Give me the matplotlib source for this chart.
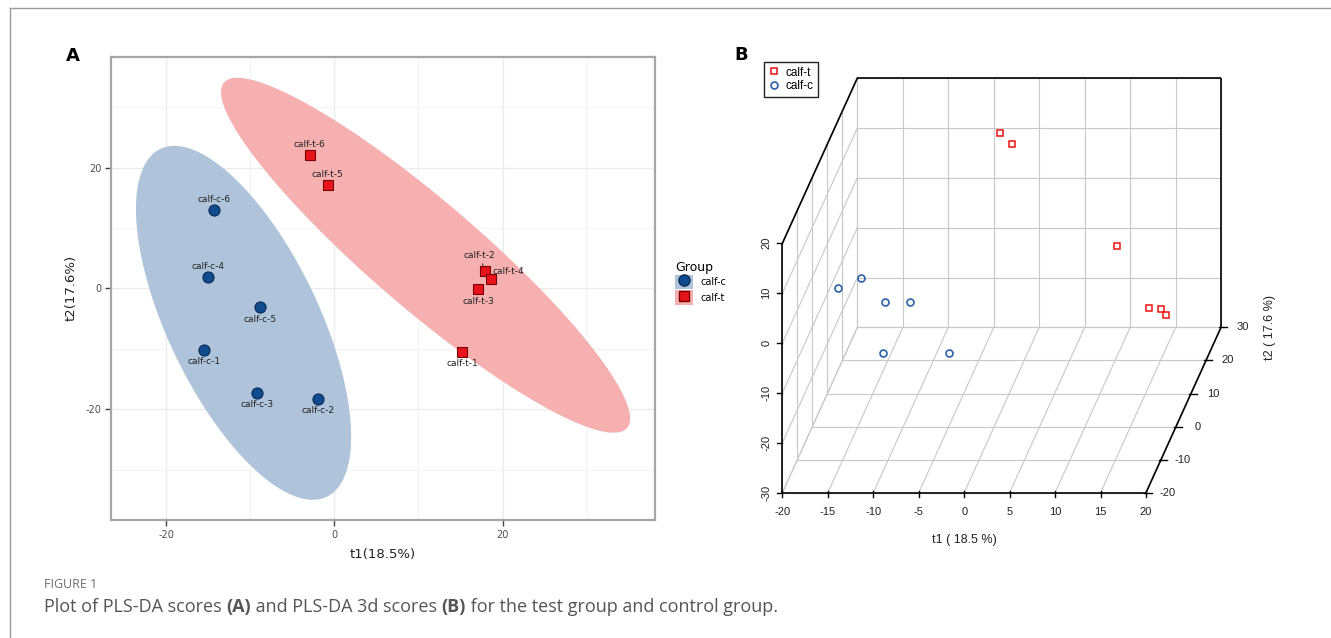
import numpy as np
import matplotlib.pyplot as plt
from matplotlib.lines import Line2D
from matplotlib.patches import Patch

plt.rcParams['axes.unicode_minus'] = False

# PLS-DA scores (t1, t2 from panel A, t3 for panel B)
names_c = ["calf-c-1", "calf-c-2", "calf-c-3", "calf-c-4", "calf-c-5", "calf-c-6"]
t1_c = [-15.52, -1.94, -9.19, -15.0, -8.78, -14.33]
t2_c = [-10.2, -18.3, -17.3, 1.8, -3.15, 12.9]
t3_c = [4.5, -3.1, 6.4, -1.4, -2.9, -23.9]

names_t = ["calf-t-1", "calf-t-2", "calf-t-3", "calf-t-4", "calf-t-5", "calf-t-6"]
t1_t = [15.2, 17.88, 17.08, 18.67, -0.81, -2.95]
t2_t = [-10.5, 2.86, -0.07, 1.49, 17.1, 22.0]
t3_t = [13.1, -8.4, -6.2, -8.7, 15.4, 14.2]

# ellipse spread: var(t1), var(t2), cov(t1, t2)
ell_c = [163.6, 858.5, -241.0]
ell_t = [591.5, 863.2, -657.0]

# 3d axes ticks
b_t1_ticks = [-20, -15, -10, -5, 0, 5, 10, 15, 20]
b_t2_ticks = [-20, -10, 0, 10, 20, 30]
b_t3_ticks = [-30, -20, -10, 0, 10, 20]

W, H = 1331, 638
fig = plt.figure(figsize=(W / 100, H / 100), dpi=100)

col_c, col_t = "#0f4c8f", "#e8141c"
fill_c, fill_t = "#afc4da", "#f7b0b0"

# ---------------- panel A ----------------
axa = fig.add_axes([111.2 / W, 1 - 520 / H, (655 - 111.2) / W, (520 - 56.7) / H])
axa.set_xlim(-26.53, 38.13)
axa.set_ylim(-38.35, 38.35)
axa.set_xticks([-20, 0, 20])
axa.set_yticks([-20, 0, 20])
axa.set_xticks([-10, 10, 30], minor=True)
axa.set_yticks([-30, -10, 10, 30], minor=True)
axa.grid(which="major", color="#ebebeb", lw=1.0, zorder=0)
axa.grid(which="minor", color="#f4f4f4", lw=0.8, zorder=0)
axa.tick_params(which="minor", length=0)
axa.tick_params(which="major", length=4, width=1, color="#444444",
                labelsize=7, labelcolor="#4d4d4d", pad=3)
for s in axa.spines.values():
    s.set_color("#a6a6a6")
    s.set_linewidth(1.6)
axa.set_axisbelow(True)

theta = np.linspace(0, 2 * np.pi, 300)
for t1, t2, ell, fc in [(t1_c, t2_c, ell_c, fill_c), (t1_t, t2_t, ell_t, fill_t)]:
    cov = np.array([[ell[0], ell[2]], [ell[2], ell[1]]])
    L = np.linalg.cholesky(cov)
    pts = (L @ np.vstack([np.cos(theta), np.sin(theta)])).T + [np.mean(t1), np.mean(t2)]
    axa.fill(pts[:, 0], pts[:, 1], color=fc, lw=0, zorder=1)

axa.plot(t1_c, t2_c, "o", ms=8, mfc=col_c, mec="#0a2a55", mew=0.8, ls="none", zorder=3)
axa.plot(t1_t, t2_t, "s", ms=7.5, mfc=col_t, mec="#7a0000", mew=0.8, ls="none", zorder=3)

# label offsets in pixels (ggrepel style)
off_c = {"calf-c-1": (0, -12), "calf-c-2": (0, -12), "calf-c-3": (0, -12),
         "calf-c-4": (0, 11), "calf-c-5": (0, -12), "calf-c-6": (0, 11)}
off_t = {"calf-t-1": (0, -12), "calf-t-2": (-5, 16), "calf-t-3": (0, -13),
         "calf-t-4": (17, 8), "calf-t-5": (0, 11), "calf-t-6": (0, 11)}
for names, t1, t2, off in [(names_c, t1_c, t2_c, off_c), (names_t, t1_t, t2_t, off_t)]:
    for n, x, y in zip(names, t1, t2):
        arrow = None
        if n == "calf-t-2":
            arrow = dict(arrowstyle="-", color="#333333", lw=0.7, shrinkA=1, shrinkB=4)
        axa.annotate(n, (x, y), xytext=off[n], textcoords="offset pixels",
                     ha="center", va="center", fontsize=6.5, color="#222222",
                     arrowprops=arrow, zorder=4)

axa.set_xlabel("t1(18.5%)", fontsize=9.5, color="#222222", labelpad=6)
axa.set_ylabel("t2(17.6%)", fontsize=9.5, color="#222222", labelpad=6)

h_c = (Patch(facecolor=fill_c, edgecolor="none"),
       Line2D([], [], marker="o", ms=8, mfc=col_c, mec="#0a2a55", ls="none"))
h_t = (Patch(facecolor=fill_t, edgecolor="none"),
       Line2D([], [], marker="s", ms=7, mfc=col_t, mec="#7a0000", ls="none"))
leg = axa.legend([h_c, h_t], ["calf-c", "calf-t"], title="Group",
                 loc="upper left", bbox_to_anchor=(666 / W, 1 - 252 / H),
                 bbox_transform=fig.transFigure, frameon=False, fontsize=7,
                 title_fontsize=9, handlelength=1.9, handleheight=1.9,
                 labelspacing=0.12, handletextpad=0.7, alignment="left")

fig.text(73 / W, 1 - 56 / H, "A", fontsize=13, fontweight="bold", ha="center", va="center")

# ---------------- panel B (oblique 3d, scatterplot3d style) ----------------
ox, oy = 782.4, 492.7     # pixel of (t1=-20, t2=-20, t3=-30)
ux, uz = 9.09, 4.99       # pixels per unit along t1 and t3
dx, dz = 1.5, 3.306       # pixel shift per unit along t2
kx, kz = dx / ux, dz / uz
xl, xr = b_t1_ticks[0], b_t1_ticks[-1]
yl, yr = b_t2_ticks[0], b_t2_ticks[-1]
zl, zr = b_t3_ticks[0], b_t3_ticks[-1]

bl, br, bt, bb = 740, 1331, 40, 560
axb = fig.add_axes([bl / W, 1 - bb / H, (br - bl) / W, (bb - bt) / H])
axb.set_xlim(xl + (bl - ox) / ux, xl + (br - ox) / ux)
axb.set_ylim(zl - (bb - oy) / uz, zl + (oy - bt) / uz)
axb.axis("off")


def proj(x, y, z):
    x = np.asarray(x, float)
    y = np.asarray(y, float)
    z = np.asarray(z, float)
    return x + (y - yl) * kx, z + (y - yl) * kz


def seg(p, q, **kw):
    X, Y = proj([p[0], q[0]], [p[1], q[1]], [p[2], q[2]])
    axb.plot(X, Y, **kw)


gkw = dict(color="#c8c8c8", lw=0.8, zorder=1)
# floor
for v in b_t1_ticks:
    seg((v, yl, zl), (v, yr, zl), **gkw)
for v in b_t2_ticks:
    seg((xl, v, zl), (xr, v, zl), **gkw)
# back wall
for v in b_t1_ticks:
    seg((v, yr, zl), (v, yr, zr), **gkw)
for v in b_t3_ticks:
    seg((xl, yr, v), (xr, yr, v), **gkw)
# left wall
for v in b_t2_ticks:
    seg((xl, v, zl), (xl, v, zr), **gkw)
for v in b_t3_ticks:
    seg((xl, yl, v), (xl, yr, v), **gkw)

bkw = dict(color="black", lw=1.2, zorder=2, solid_capstyle="butt")
seg((xl, yl, zl), (xr, yl, zl), **bkw)
seg((xl, yl, zl), (xl, yl, zr), **bkw)
seg((xr, yl, zl), (xr, yr, zl), **bkw)
seg((xl, yl, zr), (xl, yr, zr), **bkw)
seg((xl, yr, zr), (xr, yr, zr), **bkw)
seg((xr, yr, zl), (xr, yr, zr), **bkw)

tkw = dict(color="black", lw=1.0, zorder=2)
fnt = "Liberation Sans"
for v in b_t1_ticks:
    X, Y = proj(v, yl, zl)
    axb.plot([X, X], [Y + 2 / uz, Y - 4 / uz], **tkw)
    axb.text(X, Y - 19 / uz, str(v), ha="center", va="center", fontsize=8,
             family=fnt, color="#222222")
for v in b_t3_ticks:
    X, Y = proj(xl, yl, v)
    axb.plot([X - 5 / ux, X], [Y, Y], **tkw)
    axb.text(X - 16 / ux, Y, str(v), ha="center", va="center", fontsize=8,
             family=fnt, color="#222222", rotation=90)
for v in b_t2_ticks:
    X, Y = proj(xr, v, zl)
    axb.plot([X - 2 / ux, X + 6 / ux], [Y, Y], **tkw)
    axb.text(X + 22 / ux, Y, str(v), ha="center", va="center", fontsize=8,
             family=fnt, color="#222222")

X, Y = proj(t1_t, t2_t, t3_t)
axb.plot(X, Y, "s", ms=4.5, mfc="none", mec="#ee1111", mew=1.1, ls="none", zorder=3)
X, Y = proj(t1_c, t2_c, t3_c)
axb.plot(X, Y, "o", ms=5, mfc="none", mec="#2a62a8", mew=1.2, ls="none", zorder=3)

fig.text(964 / W, 1 - 540 / H, "t1 ( 18.5 %)", fontsize=9, family=fnt,
         ha="center", va="center", color="#222222")
fig.text(1270 / W, 1 - 328 / H, "t2 ( 17.6 %)", fontsize=9, family=fnt,
         ha="center", va="center", rotation=90, color="#222222")

legb = axb.legend([Line2D([], [], marker="s", ms=4.5, mfc="none", mec="#ee1111", mew=1.1, ls="none"),
                   Line2D([], [], marker="o", ms=5, mfc="none", mec="#2a62a8", mew=1.2, ls="none")],
                  ["calf-t", "calf-c"], loc="upper left",
                  bbox_to_anchor=(764 / W, 1 - 62.5 / H), bbox_transform=fig.transFigure,
                  prop=dict(family=fnt, size=8.5), handlelength=1.0, handletextpad=0.5,
                  labelspacing=0.15, borderpad=0.35, borderaxespad=0, fancybox=False,
                  edgecolor="#222222", framealpha=1)
legb.get_frame().set_linewidth(1.0)

fig.text(741 / W, 1 - 55 / H, "B", fontsize=13, fontweight="bold", ha="center", va="center")

# ---------------- frame and caption ----------------
fig.add_artist(Line2D([10 / W, 10 / W], [0, 1 - 7.5 / H], color="#9a9a9a", lw=1.0))
fig.add_artist(Line2D([10 / W, 1], [1 - 7.5 / H, 1 - 7.5 / H], color="#9a9a9a", lw=1.0))

cap = "Open Sans"
fig.text(44 / W, 1 - 585 / H, "FIGURE 1", fontsize=9, family=cap, color="#6e6e6e",
         va="center")
parts = [("Plot of PLS-DA scores ", "normal"), ("(A)", "bold"),
         (" and PLS-DA 3d scores ", "normal"), ("(B)", "bold"),
         (" for the test group and control group.", "normal")]
prev = fig.text(44 / W, 1 - 612 / H, parts[0][0], fontsize=13, family=cap,
                color="#555555", va="baseline")
for txt, w in parts[1:]:
    prev = axa.annotate(txt, xy=(1, 0), xycoords=prev, xytext=(0, 0),
                        textcoords="offset points", va="bottom", ha="left",
                        fontsize=13, family=cap, color="#555555", fontweight=w,
                        annotation_clip=False)

fig.savefig("out.png", dpi=100)
